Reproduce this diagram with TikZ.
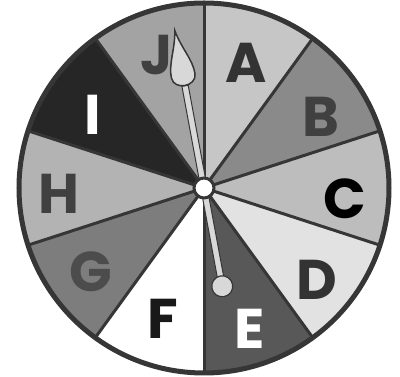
\documentclass[tikz,border=0pt]{standalone}
\usepackage{fontspec}
\setmainfont{Poppins}
\begin{document}
\begin{tikzpicture}[x=1pt,y=1pt,
  lbl/.style={font=\fontsize{56}{56}\selectfont\bfseries, inner sep=0pt, anchor=center},
  spoke/.style={draw=rimc, line width=3pt},
  rim/.style={draw=rimc, line width=5pt}]
\definecolor{rimc}{HTML}{363636}
\definecolor{cA}{HTML}{C6C6C6}
\definecolor{cB}{HTML}{8A8A8A}
\definecolor{cC}{HTML}{BDBDBD}
\definecolor{cD}{HTML}{E2E2E2}
\definecolor{cE}{HTML}{585858}
\definecolor{cF}{HTML}{FFFFFF}
\definecolor{cG}{HTML}{7D7D7D}
\definecolor{cH}{HTML}{B3B3B3}
\definecolor{cI}{HTML}{262626}
\definecolor{cJ}{HTML}{A3A3A3}
\definecolor{needlec}{HTML}{D8D8D8}
\useasboundingbox (0,0) rectangle (400,377);
\coordinate (O) at (204,189);
\def\R{185}
\foreach \a/\c in {90/cA,54/cB,18/cC,-18/cD,-54/cE,-90/cF,-126/cG,-162/cH,162/cI,126/cJ}{
  \fill[\c] (O) -- ++(\a:\R) arc[start angle=\a, delta angle=-36, radius=\R] -- cycle;
}
\foreach \a in {90,54,18,-18,-54,-90,-126,-162,162,126}{
  \draw[spoke] (O) -- ++(\a:\R);
}
\draw[rim] (O) circle (\R);
% letters
\node[lbl, text=black!75] (J) at (157,322) {J};
\node[lbl, text=black!80] (A) at (246,314) {A};
\node[lbl, text=black!75] (B) at (321,260) {B};
\node[lbl, text=black] (C) at (345,178) {C};
\node[lbl, text=black!80] (D) at (317,97) {D};
\node[lbl, text=white] (E) at (250,48) {E};
\node[lbl, text=black!90] (F) at (163,58) {F};
\node[lbl, text=black!70] (G) at (91,105) {G};
\node[lbl, text=black!75] (H) at (59,183) {H};
\node[lbl, text=white] (I) at (93,262) {I};
% needle
\begin{scope}[shift={(O)}, rotate=10.5]
  \draw[rimc, line width=1pt, fill=needlec] (-3.2,-100) rectangle (3.2,104);
  \draw[rimc, line width=1.2pt, fill=needlec] (0,-100) circle (10.5);
  \draw[rimc, line width=1.5pt, fill=needlec]
    (0,160) .. controls (3,142) and (12.5,128) .. (12,114)
    .. controls (11.5,101) and (-11.5,101) .. (-12,114)
    .. controls (-12.5,128) and (-3,142) .. (0,160) -- cycle;
\end{scope}
\node[circle, draw=rimc, line width=3pt, fill=white, minimum size=20pt, inner sep=0pt] (hub) at (O) {};
\end{tikzpicture}
\end{document}
